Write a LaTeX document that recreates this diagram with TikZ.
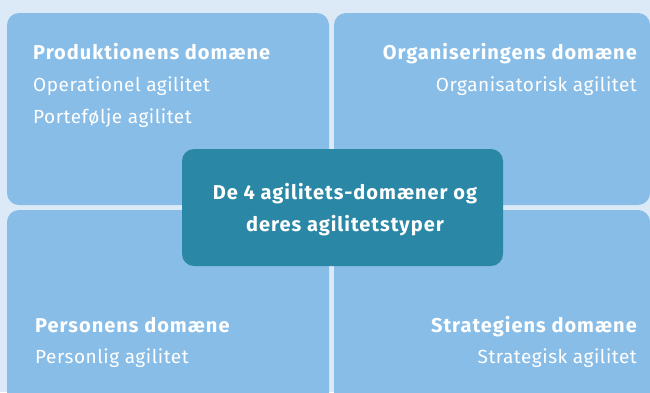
\documentclass[tikz,border=0pt]{standalone}
\usepackage{fontspec}
\setmainfont{Fira Sans}
\newfontfamily\headfont[LetterSpace=5]{Fira Sans}
\newfontfamily\kindfont[LetterSpace=2.8]{Fira Sans}
\definecolor{bgblue}{HTML}{DCE9F6}
\definecolor{quadblue}{HTML}{88BDE7}
\definecolor{coreteal}{HTML}{2A87A5}
\tikzset{
  quad/.style={fill=quadblue, rounded corners=12pt},
  head/.style={text=white, font=\headfont\fontsize{20}{24}\selectfont\bfseries, inner sep=0pt},
  kind/.style={text=white, font=\kindfont\fontsize{19}{23}\selectfont, inner sep=0pt},
}
\begin{document}
\begin{tikzpicture}[x=1pt,y=-1pt]
  \fill[bgblue] (0,0) rectangle (650,392);
  \useasboundingbox (0,0) rectangle (650,392);
  % four domain quadrants
  \foreach \xa/\xb/\ya/\yb in {7/329/13/205, 334/650/13/205, 7/329/210/404, 334/650/210/404} {
    \fill[quad] (\xa,\ya) rectangle (\xb,\yb);
  }
  % centre label
  \fill[coreteal, rounded corners=12pt] (182,149) rectangle (503,266);
  % texts, left quadrants
  \node[head, anchor=base west] (prodhead) at (33,59) {Produktionens domæne};
  \node[kind, anchor=base west] (prodop) at (33,91) {Operationel agilitet};
  \node[kind, anchor=base west] (prodpf) at (33,123) {Portefølje agilitet};
  \node[head, anchor=base west] (perhead) at (35,332) {Personens domæne};
  \node[kind, anchor=base west] (perag) at (35,363) {Personlig agilitet};
  % texts, right quadrants
  \node[head, anchor=base east] (orghead) at (637,59) {Organiseringens domæne};
  \node[kind, anchor=base east] (orgag) at (637,91) {Organisatorisk agilitet};
  \node[head, anchor=base east] (strhead) at (637,332) {Strategiens domæne};
  \node[kind, anchor=base east] (strag) at (637,363) {Strategisk agilitet};
  % centre texts
  \node[head, anchor=base] (coreone) at (345,199) {De 4 agilitets-domæner og};
  \node[head, anchor=base] (coretwo) at (345,231) {deres agilitetstyper};
\end{tikzpicture}
\end{document}
